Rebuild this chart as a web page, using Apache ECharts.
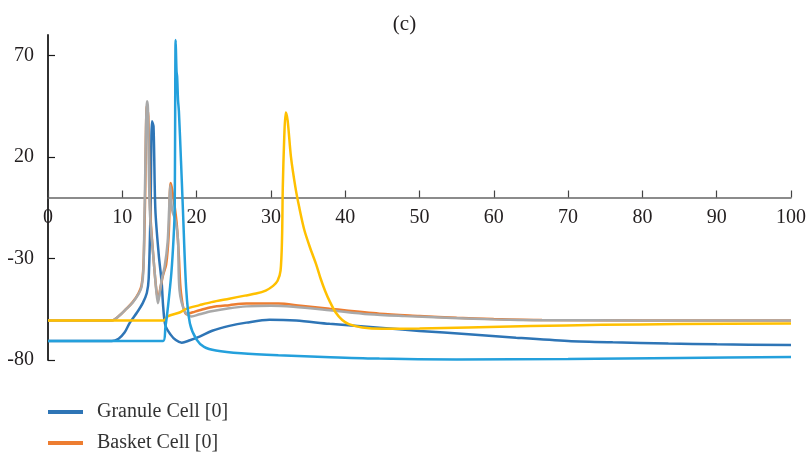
<!DOCTYPE html>
<html>
<head>
<meta charset="utf-8">
<script src="https://cdn.jsdelivr.net/npm/echarts@6/dist/echarts.min.js"></script>
<style>html,body{margin:0;padding:0;background:#fff}#c{width:809px;height:460px}</style>
</head>
<body>
<div id="c"></div>
<script>
const xTicks = [0,10,20,30,40,50,60,70,80,90,100];
const yTicks = [-80,-30,20,70];

const granule = [[0,-70.6],[8.6,-70.6],[9.5,-69.5],[10.3,-66.5],[11,-61.7],[12,-56.5],[12.75,-52],[13.3,-47],[13.55,-40],[13.8,-6],[14.0,37.5],[14.2,35],[14.45,-6],[14.9,-28],[15.3,-42],[15.5,-53.7],[15.8,-63],[16.5,-67.5],[17.2,-70.2],[18.0,-71.5],[19.1,-70.3],[20.4,-68.5],[22.1,-65.6],[24.4,-63.2],[26.7,-61.6],[29.8,-60.2],[33.4,-60.6],[37.9,-62.2],[44.6,-64.1],[50,-65.7],[56.6,-67.3],[63,-69],[70,-70.6],[76,-71.3],[83.5,-71.9],[90,-72.3],[100,-72.6]];

const basket = [[0,-60.5],[8.6,-60.5],[9.5,-58.5],[10.5,-55],[11.4,-51.5],[12.2,-47],[12.6,-43],[12.85,-33],[13.05,-4],[13.3,45],[13.5,40],[13.75,-6],[14.2,-30],[14.6,-46],[14.85,-50],[15.1,-45],[15.5,-38],[15.9,-33],[16.25,-18],[16.5,7.1],[16.75,3],[17.3,-12],[17.6,-28],[17.9,-47],[18.6,-57.5],[19.5,-56.5],[20.4,-55.5],[22,-54],[24.4,-53],[26.7,-52.2],[31,-52.2],[34,-53.3],[37.9,-54.8],[44.6,-57.2],[50,-58.3],[55,-59.2],[60,-59.8],[66.5,-60.3],[80,-60.5],[100,-60.5]];

const cellC = [[0,-60.5],[8.6,-60.5],[9.5,-58.5],[10.5,-55],[11.4,-51.7],[12.2,-47.5],[12.6,-44],[12.85,-35],[13.0,-6],[13.33,47.4],[13.45,44],[13.7,-6],[14.2,-30],[14.6,-47],[14.8,-52],[15.0,-48],[15.3,-40.6],[15.7,-34],[16.1,-22],[16.3,-6],[16.45,6],[16.7,-6],[17.2,-12],[17.5,-21],[17.7,-45.6],[18.4,-56],[19.3,-58.6],[20.4,-57.5],[22,-56],[24.4,-54.5],[26.7,-53.6],[30,-53.3],[33,-53.8],[37.9,-55.5],[43.2,-57.5],[48,-58.4],[54.4,-59.3],[60,-60],[66.5,-60.4],[80,-60.5],[100,-60.5]];

const cellD = [[0,-60.5],[15.6,-60.5],[16.1,-58.5],[17.8,-56.5],[18.6,-54.8],[20.4,-53],[22,-51.5],[24.4,-49.8],[26.5,-48.3],[28,-47.3],[29.3,-45.8],[30.3,-43.5],[30.9,-41],[31.3,-36],[31.5,-20],[31.6,5],[31.8,30],[32.0,41.9],[32.25,38],[32.7,20],[33.3,5],[33.8,-4.6],[34.5,-16],[35.3,-25],[36.1,-33],[36.7,-40],[37.3,-46],[37.9,-51],[38.7,-56.5],[39.6,-60.3],[40.5,-62.3],[42.3,-64],[45,-64.6],[50,-64.5],[56.6,-64],[65,-63.3],[74.5,-62.7],[85,-62.3],[100,-62]];

const cellE = [[0,-70.6],[15.5,-70.6],[15.8,-64],[16.15,-53.7],[16.6,-37.3],[16.9,-20],[17.05,-6],[17.18,77.5],[17.3,62],[17.38,59.5],[17.5,48],[17.62,42.3],[17.9,18],[18.16,-6],[18.6,-45],[19.1,-62],[20,-70],[21,-73.5],[22.6,-75.3],[26,-76.7],[31,-77.7],[38,-78.6],[44.6,-79.3],[55,-79.7],[70,-79.5],[85,-79],[100,-78.5]];

const FONT = 'Liberation Serif';
const chart = echarts.init(document.getElementById('c'), null, {renderer:'canvas'});
function line(name, data, color){
  return {name, type:'line', data, symbol:'none', smooth:0.3,
    lineStyle:{width:2.5, color}, itemStyle:{color}, z:2};
}
const legendText = {fontFamily:FONT, fontSize:20, lineHeight:20, color:'#333', padding:[0,0,0,9]};
const GRID_TOP = 35, GRID_BOTTOM = 100, H = 460, YMIN = -80, YMAX = 80;
const plotH = H - GRID_TOP - GRID_BOTTOM;
const zeroOffset = -plotH * (0 - YMIN) / (YMAX - YMIN);
chart.setOption({
  animation:false,
  backgroundColor:'#fff',
  title:{text:'(c)', left:'center', top:9, textStyle:{fontFamily:FONT, fontSize:21, fontWeight:'normal', color:'#231f20'}},
  legend:[
    {left:48, top:402, padding:0, itemWidth:35, itemHeight:4, icon:'rect', data:['Granule Cell [0]'], textStyle:legendText},
    {left:48, top:433, padding:0, itemWidth:35, itemHeight:4, icon:'rect', data:['Basket Cell [0]'], textStyle:legendText}
  ],
  grid:{left:48, right:16, top:GRID_TOP, bottom:GRID_BOTTOM, containLabel:false},
  xAxis:{type:'value', min:0, max:100, interval:10, offset:zeroOffset,
    axisLine:{onZero:false, lineStyle:{color:'#666', width:1.5}},
    axisTick:{inside:true, length:7, lineStyle:{color:'#444', width:1.2}},
    axisLabel:{fontFamily:FONT, fontSize:20, color:'#231f20', margin:10, customValues:xTicks},
    splitLine:{show:false}},
  yAxis:{type:'value', min:YMIN, max:YMAX, interval:50,
    axisLine:{show:true, lineStyle:{color:'#1a1a1a', width:1.8}},
    axisTick:{show:true, inside:true, length:7, lineStyle:{color:'#1a1a1a', width:1.2}, customValues:yTicks},
    axisLabel:{fontFamily:FONT, fontSize:20, color:'#231f20', margin:14, customValues:yTicks},
    splitLine:{show:false}},
  series:[
    line('Granule Cell [0]', granule, '#2E75B6'),
    line('Basket Cell [0]', basket, '#ED7D31'),
    line('Cell C', cellC, '#A9A9A9'),
    line('Cell D', cellD, '#FFC000'),
    line('Cell E', cellE, '#24A0DC')
  ]
});
</script>
</body>
</html>
